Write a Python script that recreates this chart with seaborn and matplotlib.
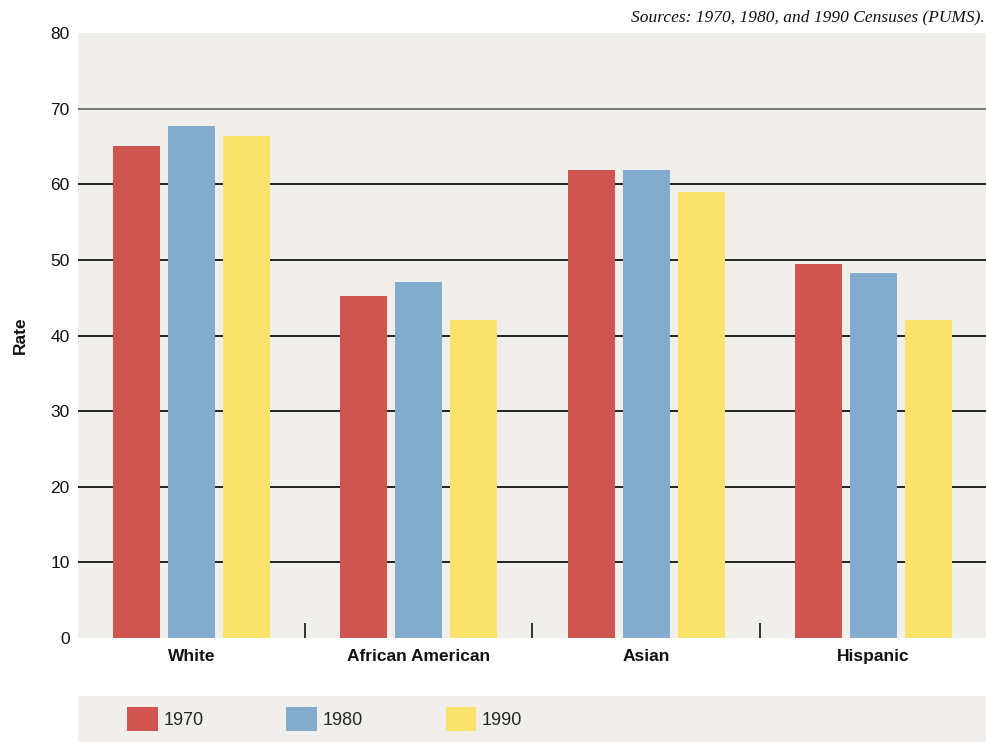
import matplotlib
matplotlib.use("Agg")
import matplotlib.pyplot as plt
import seaborn as sns
import pandas as pd

categories = ["White", "African American", "Asian", "Hispanic"]
years = ["1970", "1980", "1990"]
rate_1970 = [65.0, 45.2, 61.9, 49.5]
rate_1980 = [67.7, 47.1, 61.9, 48.2]
rate_1990 = [66.4, 42.0, 59.0, 42.0]
yticks = [0, 10, 20, 30, 40, 50, 60, 70, 80]

colors = ["#d05450", "#82abcd", "#fbe26b"]
bg = "#f0efeb"

rows = []
for yr, vals in zip(years, [rate_1970, rate_1980, rate_1990]):
    for c, v in zip(categories, vals):
        rows.append({"Group": c, "Year": yr, "Rate": v})
df = pd.DataFrame(rows)

sns.set_theme(style="white")
plt.rcParams["font.family"] = ["Liberation Sans Narrow", "Liberation Sans", "DejaVu Sans"]

fig = plt.figure(figsize=(9.87, 7.42), dpi=100)
ax = fig.add_axes([78 / 987, 104 / 742, 909 / 987, 605 / 742])
ax.set_facecolor(bg)

sns.barplot(data=df, x="Group", y="Rate", hue="Year", order=categories,
            hue_order=years, palette=colors, width=0.727, gap=0.145,
            saturation=1, ax=ax, legend=True, zorder=3, linewidth=0,
            edgecolor="none")

ax.set_xlim(-0.5, 3.5)
ax.set_ylim(0, 80)
ax.set_yticks(yticks)
ax.set_yticklabels([str(t) for t in yticks], fontsize=12.5, color="#111111")
ax.set_xticks(range(len(categories)))
ax.set_xticklabels(categories, fontsize=12.5, color="#111111", fontweight="bold")
ax.tick_params(axis="y", length=0, pad=6)
ax.tick_params(axis="x", which="major", length=0, pad=8)
ax.set_xticks([0.5, 1.5, 2.5], minor=True)
ax.tick_params(axis="x", which="minor", bottom=True, direction="in", length=11,
               width=1.2, color="#111111")
ax.set_xlabel("")
ax.set_ylabel("Rate", fontsize=12.5, fontweight="bold", color="#111111", labelpad=16)

for t in yticks[1:-1]:
    ax.axhline(t, color="#777777" if t == 70 else "#222222", lw=1.4, zorder=1)

for s in ax.spines.values():
    s.set_visible(False)

handles, labels = ax.get_legend_handles_labels()
ax.get_legend().remove()

fig.text(0.998, 0.988, "Sources: 1970, 1980, and 1990 Censuses (PUMS).",
         ha="right", va="top", fontsize=12.5, style="italic",
         family=["Liberation Serif", "DejaVu Serif"], color="#111111")

lax = fig.add_axes([78 / 987, 0, 909 / 987, 46 / 742])
lax.set_facecolor(bg)
lax.set_xticks([])
lax.set_yticks([])
for s in lax.spines.values():
    s.set_visible(False)
leg = lax.legend(handles, labels, ncol=3, loc="center left", frameon=False,
                 bbox_to_anchor=(0.046, 0.5), fontsize=13, handlelength=1.7,
                 handleheight=1.6, handletextpad=0.3, columnspacing=4.6,
                 borderaxespad=0)
for h in leg.legend_handles:
    h.set_edgecolor("none")

fig.savefig("out.png", dpi=100, facecolor="white")
